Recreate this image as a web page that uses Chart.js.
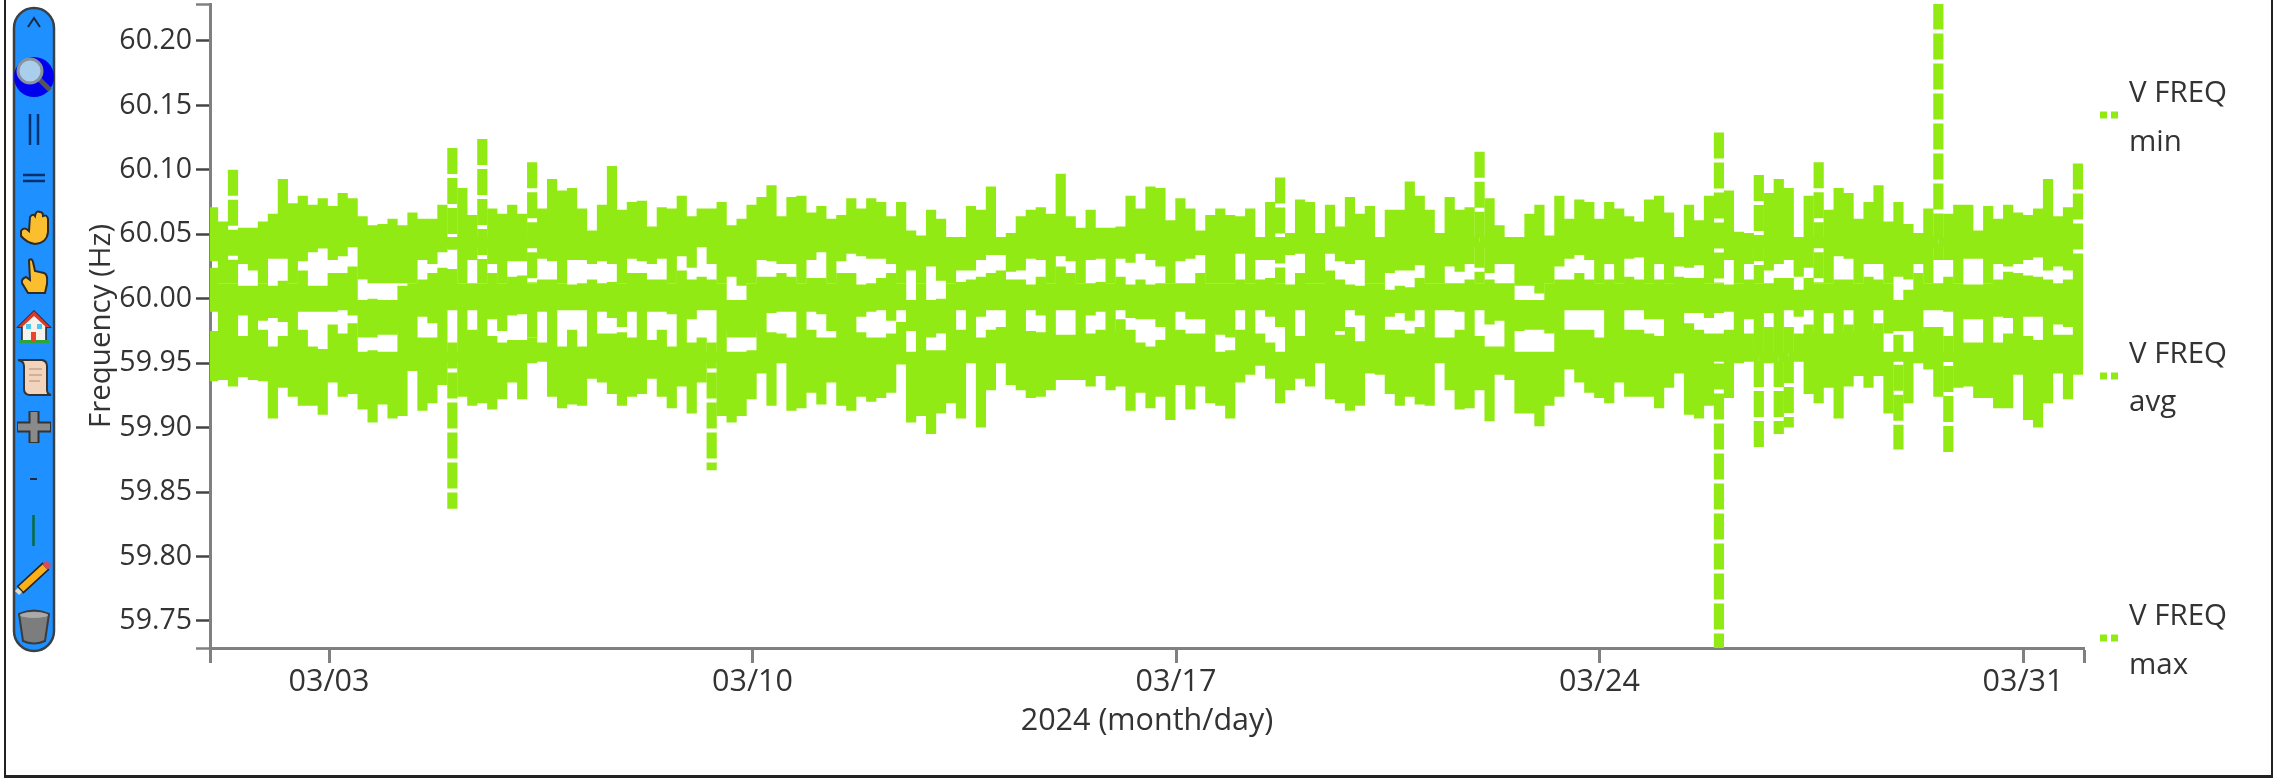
<!DOCTYPE html>
<html><head><meta charset="utf-8">
<script src="https://cdn.jsdelivr.net/npm/chart.js@4/dist/chart.umd.min.js"></script>
<style>
html,body{margin:0;padding:0;background:#fff;overflow:hidden}
#stage{position:relative;width:2279px;height:778px;background:#fff}
#frame{position:absolute;left:4px;top:-4px;width:2265px;height:777px;border:2px solid #222;border-bottom-width:3px;box-sizing:content-box;pointer-events:none}
canvas{position:absolute;left:0;top:0}
#tools{position:absolute;left:0;top:0}
</style></head><body>
<div id="stage">
<canvas id="c" width="2279" height="778"></canvas>
<div id="frame"></div>
<svg id="tools" width="70" height="670" viewBox="0 0 70 670">
 <rect x="14" y="8" width="40" height="643" rx="20" fill="#1e90ff" stroke="#3a4048" stroke-width="2.5"/>
 <path d="M28 27 L34 18 L40 27" fill="none" stroke="#1a2a44" stroke-width="2"/>
 <circle cx="34" cy="77" r="20" fill="#0000ee"/>
 <path d="M38 78 L50 90" stroke="#555" stroke-width="5"/>
 <circle cx="30" cy="71" r="12" fill="#a9cfec" stroke="#8a939b" stroke-width="3"/>
 <path d="M30 114V145M38 114V145" stroke="#06306b" stroke-width="2.5"/>
 <path d="M23 175H45M23 181H45" stroke="#06306b" stroke-width="2.5"/>
 <path d="M21 231 Q24 226 29 231 L30 217 Q33 213 35 216 Q36 210 40 212 Q43 212 43 216 Q47 214 48 219 V232 Q47 243 35 244 Q27 243 21 236 Z" fill="#fbbe2e" stroke="#2b2b2b" stroke-width="2"/>
 <path d="M29 260 Q32 258 33 262 L35 271 L44 273 Q48 274 47 284 L45 293 H28 L22 283 Q21 279 26 277 L30 280 Z" fill="#fbbe2e" stroke="#2b2b2b" stroke-width="2"/>
 <path d="M34 311 L50 327 H46 V341 H22 V327 H18 Z" fill="#f5f2ee" stroke="#222" stroke-width="1.5"/>
 <path d="M34 311 L50 327 H46 L34 316 L22 327 H18 Z" fill="#d8392b"/>
 <rect x="19" y="340" width="30" height="3" fill="#2da53a"/>
 <rect x="31" y="332" width="5" height="9" fill="#e8442c"/>
 <rect x="26" y="324" width="5" height="5" fill="#4cc8ee"/><rect x="37" y="324" width="5" height="5" fill="#4cc8ee"/>
 <path d="M18 360 H42 Q47 361 47 366 V390 Q47 394 51 395 H29 Q24 394 24 389 V366 Q24 361 18 360 Z" fill="#f2d3bb" stroke="#333" stroke-width="2"/>
 <path d="M29 369H42M29 375H42M29 381H40" stroke="#c8a58c" stroke-width="1.5"/>
 <path d="M34 411V443M17 427H51" stroke="#333" stroke-width="11"/>
 <path d="M34 412V442M18 427H50" stroke="#8a8a8a" stroke-width="7"/>
 <path d="M30 479H37" stroke="#1a2a44" stroke-width="2"/>
 <path d="M33.5 515V546" stroke="#0a6a3a" stroke-width="2.5"/>
 <path d="M20 590 L46 566" stroke="#222" stroke-width="10"/>
 <path d="M21 589 L45 567" stroke="#fbb017" stroke-width="7"/>
 <path d="M45 567 L49 563" stroke="#e0475a" stroke-width="7"/>
 <path d="M20 590 L17 593" stroke="#e9d7b5" stroke-width="6"/>
 <path d="M19 614 Q34 607 49 614 L45 641 Q34 646 23 641 Z" fill="#7d7d7d" stroke="#3c3c3c" stroke-width="2"/>
 <ellipse cx="34" cy="615" rx="14" ry="3" fill="#aaa"/>
</svg>
</div>
<script>
const xTickDays = [3, 10, 17, 24, 31];
const xTickLabels = ["03/03", "03/10", "03/17", "03/24", "03/31"];
const yTickValues = [59.75, 59.80, 59.85, 59.90, 59.95, 60.00, 60.05, 60.10, 60.15, 60.20];
const seriesNames = [["V FREQ", "min"], ["V FREQ", "avg"], ["V FREQ", "max"]];
const xAxisRange = [1.033, 32.008];
const yAxisRange = [59.729, 60.2287];
const firstSampleDay = 1.083;
const sampleStepDays = 0.16484;
const bandCentres = [59.955, 59.995, 60.044];

const maxHigh = [
60.071,60.060,60.100,60.055,60.055,60.060,60.066,60.093,60.074,60.080,60.073,60.078,60.072,60.082,60.078,60.064,60.057,60.058,60.062,60.057,60.067,60.062,60.062,60.073,60.117,60.086,60.065,60.124,60.070,
60.066,60.073,60.066,60.106,60.070,60.093,60.084,60.086,60.070,60.053,60.073,60.103,60.069,60.075,60.076,60.056,60.071,60.070,60.080,60.064,60.070,60.070,60.075,60.057,60.062,60.073,
60.079,60.088,60.064,60.079,60.080,60.067,60.072,60.062,60.065,60.078,60.070,60.078,60.075,60.064,60.075,60.053,60.049,60.069,60.062,60.048,60.043,60.072,60.069,60.087,60.048,60.051,
60.064,60.069,60.071,60.066,60.097,60.064,60.055,60.069,60.055,60.055,60.056,60.080,60.070,60.087,60.086,60.061,60.078,60.070,60.053,60.065,60.070,60.065,60.064,60.070,60.048,60.075,60.094,60.051,60.077,60.075,60.051,60.073,60.056,60.079,60.066,60.072,60.043,60.069,60.069,
60.091,60.080,60.069,60.051,60.079,60.069,60.071,60.114,60.078,60.057,60.043,60.043,60.066,60.073,60.049,60.080,60.062,60.077,60.075,60.062,60.075,60.070,60.064,60.060,
60.077,60.080,60.067,60.044,60.073,60.061,60.080,60.129,60.084,60.052,60.051,60.096,60.082,60.093,60.086,60.043,60.080,60.106,60.069,60.086,60.082,60.062,60.075,60.088,
60.060,60.075,60.058,60.051,60.070,60.229,60.066,60.073,60.073,60.053,60.072,60.062,60.073,60.067,60.065,60.070,60.093,60.064,60.071,60.105];
const maxLow = [
60.029,60.012,60.012,60.027,60.022,60.012,60.031,60.031,60.012,60.029,60.036,60.039,60.030,60.033,60.040,60.015,60.012,60.012,60.012,60.012,60.012,60.030,60.027,60.036,60.038,60.012,60.030,60.012,60.027,
60.012,60.029,60.029,60.012,60.031,60.029,60.012,60.030,60.030,60.027,60.029,60.027,60.012,60.031,60.029,60.027,60.031,60.012,60.033,60.024,60.043,60.027,60.012,60.017,60.010,60.012,
60.030,60.029,60.027,60.027,60.012,60.030,60.036,60.012,60.029,60.035,60.033,60.031,60.031,60.027,60.012,60.022,60.012,60.025,60.014,60.012,60.022,60.022,60.030,60.034,60.034,60.021,
60.022,60.031,60.030,60.012,60.033,60.029,60.012,60.030,60.031,60.012,60.031,60.028,60.035,60.030,60.025,60.012,60.029,60.031,60.034,60.012,60.012,60.012,60.035,60.012,60.030,60.030,60.012,60.034,60.035,60.012,60.012,60.035,60.029,60.027,60.030,60.012,60.012,60.020,60.022,
60.022,60.026,60.012,60.012,60.025,60.021,60.027,60.012,60.020,60.027,60.027,60.010,60.010,60.004,60.012,60.025,60.031,60.034,60.030,60.012,60.027,60.012,60.031,60.032,
60.012,60.027,60.012,60.025,60.024,60.026,60.012,60.012,60.030,60.012,60.027,60.012,60.022,60.027,60.030,60.017,60.024,60.012,60.012,60.033,60.031,60.012,60.027,60.027,
60.012,60.017,60.015,60.027,60.012,60.030,60.030,60.012,60.031,60.031,60.012,60.027,60.025,60.027,60.030,60.032,60.022,60.025,60.022,60.020];
const avgHigh = [
60.024,60.012,60.012,60.010,60.010,60.012,60.010,60.014,60.012,60.022,60.010,60.010,60.020,60.020,60.025,59.997,60.000,59.990,59.990,60.010,60.012,60.015,60.020,60.024,60.023,60.012,60.012,60.012,60.020,
60.012,60.017,60.018,60.012,60.015,60.015,60.012,60.011,60.012,60.015,60.012,60.013,60.012,60.020,60.020,60.015,60.015,60.012,60.022,60.015,60.017,60.015,60.012,59.990,59.995,60.012,
60.017,60.017,60.020,60.017,60.012,60.016,60.016,60.012,60.020,60.020,60.011,60.012,60.016,60.020,60.012,59.991,60.012,59.994,60.000,60.012,60.013,60.015,60.017,60.020,60.022,60.015,
60.015,60.011,60.017,60.012,60.025,60.020,60.012,60.012,60.013,60.012,60.017,60.011,60.015,60.011,60.012,60.012,60.012,60.012,60.020,60.012,60.012,60.012,60.015,60.012,60.015,60.016,60.012,60.011,60.020,60.012,60.012,60.022,60.015,60.011,60.010,60.012,60.012,60.007,60.010,
60.009,60.016,60.012,60.012,60.012,60.012,60.015,60.012,60.015,60.012,60.012,59.994,59.995,59.992,60.012,60.015,60.015,60.020,60.015,60.012,60.015,60.012,60.017,60.015,
60.012,60.015,60.012,60.017,60.016,60.016,60.012,60.012,60.011,60.012,60.015,60.012,60.012,60.016,60.016,60.007,60.016,60.012,60.012,60.015,60.015,60.012,60.017,60.015,
60.012,59.998,60.007,60.020,60.012,60.012,60.017,60.012,60.011,60.011,60.012,60.015,60.021,60.020,60.018,60.017,60.015,60.012,60.015,60.020];
const avgLow = [
59.990,59.975,59.975,59.987,59.975,59.983,59.985,59.982,59.975,59.990,59.990,59.990,59.990,59.992,59.987,59.970,59.970,59.972,59.972,59.975,59.975,59.986,59.981,59.975,59.992,59.975,59.992,59.975,59.984,
59.975,59.987,59.988,59.970,59.990,59.975,59.991,59.991,59.991,59.975,59.990,59.985,59.978,59.990,59.975,59.990,59.990,59.988,59.975,59.984,59.994,59.994,59.975,59.970,59.970,59.970,
59.975,59.989,59.990,59.990,59.975,59.990,59.988,59.975,59.975,59.975,59.986,59.990,59.991,59.983,59.993,59.975,59.975,59.970,59.973,59.975,59.994,59.975,59.986,59.999,59.997,59.975,
59.975,59.993,59.987,59.975,60.000,59.994,59.975,59.987,59.990,59.975,59.994,59.985,59.984,59.984,59.978,59.975,59.990,59.984,59.984,59.975,59.972,59.970,59.997,59.975,59.991,59.986,59.978,59.975,59.991,59.975,59.975,59.975,59.975,59.991,59.987,59.975,59.975,59.986,59.989,
59.983,59.994,59.975,59.991,59.991,59.990,59.975,59.996,59.980,59.983,59.975,59.975,59.976,59.976,59.973,59.975,59.995,59.994,59.993,59.991,59.975,59.975,59.991,59.993,
59.984,59.984,59.975,59.975,59.989,59.989,59.985,59.989,59.990,59.975,59.984,59.975,59.989,59.975,59.991,59.986,59.991,59.975,59.989,59.975,59.993,59.975,59.975,59.994,
59.973,59.975,59.975,59.975,59.996,59.996,59.990,59.975,59.984,59.984,59.975,59.986,59.985,59.975,59.986,59.986,59.975,59.980,59.978,59.975];
const minHigh = [
59.975,59.975,59.975,59.971,59.975,59.976,59.963,59.971,59.975,59.976,59.963,59.961,59.980,59.973,59.981,59.955,59.960,59.952,59.950,59.975,59.975,59.970,59.970,59.975,59.966,59.975,59.976,59.975,59.971,
59.966,59.968,59.968,59.970,59.966,59.975,59.963,59.976,59.963,59.975,59.973,59.973,59.974,59.970,59.975,59.968,59.976,59.963,59.975,59.966,59.970,59.966,59.975,59.955,59.955,59.960,
59.975,59.974,59.973,59.970,59.975,59.976,59.970,59.970,59.975,59.975,59.974,59.970,59.970,59.973,59.982,59.955,59.975,59.960,59.960,59.975,59.976,59.975,59.970,59.976,59.978,59.975,
59.975,59.975,59.974,59.975,59.972,59.972,59.975,59.973,59.976,59.975,59.984,59.976,59.966,59.963,59.968,59.975,59.976,59.973,59.973,59.975,59.953,59.960,59.976,59.975,59.973,59.966,59.958,59.975,59.971,59.975,59.975,59.975,59.972,59.978,59.967,59.975,59.975,59.976,59.976,
59.973,59.978,59.975,59.970,59.970,59.976,59.975,59.971,59.963,59.963,59.975,59.955,59.955,59.958,59.955,59.975,59.976,59.976,59.976,59.970,59.975,59.975,59.976,59.976,
59.973,59.971,59.975,59.975,59.981,59.976,59.973,59.973,59.976,59.975,59.973,59.975,59.978,59.975,59.978,59.973,59.980,59.975,59.973,59.975,59.980,59.975,59.975,59.981,
59.955,59.972,59.958,59.975,59.978,59.978,59.971,59.975,59.966,59.966,59.975,59.966,59.973,59.975,59.971,59.968,59.975,59.972,59.972,59.975];
const minLow = [
59.936,59.937,59.932,59.939,59.937,59.936,59.907,59.931,59.924,59.917,59.917,59.910,59.935,59.924,59.926,59.914,59.904,59.918,59.907,59.909,59.944,59.913,59.919,59.933,59.837,59.924,59.917,59.919,59.914,
59.922,59.935,59.922,59.950,59.955,59.924,59.915,59.918,59.917,59.938,59.935,59.926,59.917,59.924,59.926,59.938,59.924,59.915,59.932,59.911,59.935,59.867,59.909,59.904,59.909,59.922,
59.942,59.917,59.950,59.913,59.915,59.927,59.918,59.935,59.917,59.913,59.924,59.920,59.923,59.927,59.949,59.904,59.909,59.895,59.911,59.919,59.907,59.950,59.900,59.929,59.950,59.933,
59.929,59.923,59.924,59.929,59.937,59.937,59.937,59.932,59.940,59.929,59.932,59.913,59.927,59.915,59.924,59.906,59.933,59.914,59.932,59.919,59.917,59.907,59.935,59.941,59.948,59.938,59.919,59.929,59.938,59.932,59.950,59.922,59.919,59.913,59.917,59.942,59.941,59.926,59.917,
59.924,59.918,59.917,59.950,59.929,59.914,59.915,59.929,59.905,59.941,59.937,59.911,59.911,59.901,59.917,59.924,59.945,59.935,59.927,59.923,59.919,59.935,59.924,59.924,
59.924,59.915,59.931,59.942,59.910,59.907,59.917,59.729,59.923,59.950,59.953,59.884,59.950,59.895,59.900,59.953,59.926,59.919,59.931,59.907,59.932,59.940,59.931,59.940,
59.911,59.883,59.919,59.950,59.945,59.924,59.880,59.931,59.932,59.923,59.923,59.915,59.915,59.941,59.906,59.900,59.919,59.942,59.922,59.941];

const lineColor = "#92ea14";
const spineColor = "#808080";
const textColor = "#333333";
const fontName = "'Open Sans', sans-serif";
const dashedSpan = 0.078;

function sweep(highs, lows, centre) {
  const pts = [];
  highs.forEach((h, i) => {
    const day = firstSampleDay + i * sampleStepDays;
    pts.push({x: day, y: centre}, {x: day, y: h}, {x: day, y: lows[i]}, {x: day, y: centre});
  });
  return pts;
}
function lineSet(name, highs, lows, centre) {
  const tall = idx => {
    const i = Math.floor(idx / 4);
    return highs[i] - lows[i] > dashedSpan;
  };
  return {
    label: name.join(" "), data: sweep(highs, lows, centre), parsing: false,
    borderColor: lineColor, backgroundColor: lineColor, borderWidth: 10.2,
    borderDash: [26, 4], borderJoinStyle: "bevel", borderCapStyle: "butt",
    pointRadius: 0, tension: 0, fill: false,
    segment: {
      borderColor: ctx => {
        const part = ctx.p0DataIndex % 4;
        return (part === 0 || part === 2) && tall(ctx.p0DataIndex) ? "rgba(0,0,0,0)" : lineColor;
      },
      borderDash: ctx => (ctx.p0DataIndex % 4 === 1 && tall(ctx.p0DataIndex) ? [26, 4] : [])
    }
  };
}
const sideLegend = {
  id: "sideLegend",
  afterDraw(chart) {
    const c = chart.ctx;
    const rows = [
      {mark: 115, a: 94, b: 143},
      {mark: 376, a: 355, b: 403},
      {mark: 638, a: 617, b: 666}
    ];
    c.save();
    chart.data.datasets.forEach((ds, i) => {
      const r = rows[i];
      c.strokeStyle = ds.borderColor; c.lineWidth = 7; c.setLineDash([7, 4]);
      c.beginPath(); c.moveTo(2100, r.mark); c.lineTo(2119, r.mark); c.stroke();
      c.setLineDash([]);
      c.fillStyle = textColor; c.font = "29.5px " + fontName;
      c.textAlign = "left"; c.textBaseline = "middle";
      c.fillText(seriesNames[i][0], 2129, r.a);
      c.fillText(seriesNames[i][1], 2129, r.b);
    });
    c.restore();
  }
};
new Chart(document.getElementById("c"), {
  type: "line",
  data: { datasets: [
    lineSet(seriesNames[0], minHigh, minLow, bandCentres[0]),
    lineSet(seriesNames[1], avgHigh, avgLow, bandCentres[1]),
    lineSet(seriesNames[2], maxHigh, maxLow, bandCentres[2])
  ]},
  plugins: [sideLegend],
  options: {
    responsive: false, maintainAspectRatio: false, animation: false,
    layout: { padding: { top: 4, right: 195, left: 0, bottom: 0 } },
    plugins: { legend: { display: false }, tooltip: { enabled: false } },
    scales: {
      x: {
        type: "linear", min: xAxisRange[0], max: xAxisRange[1],
        afterBuildTicks(s) { s.ticks = [xAxisRange[0], ...xTickDays, xAxisRange[1]].map(v => ({value: v})); },
        afterFit(s) { s.height = 130; s.paddingLeft = 0; s.paddingRight = 0; },
        border: { display: true, color: spineColor, width: 3 },
        grid: { display: true, drawOnChartArea: false, drawTicks: true, tickLength: 15, tickColor: spineColor, tickWidth: 3 },
        ticks: {
          autoSkip: false, maxRotation: 0, minRotation: 0, padding: 1,
          color: textColor, font: { family: fontName, size: 30.5 },
          callback(v) { const i = xTickDays.indexOf(v); return i < 0 ? "" : xTickLabels[i]; }
        },
        title: { display: true, text: "2024 (month/day)", color: textColor, font: { family: fontName, size: 30.5 }, padding: { top: 0, bottom: 38 } }
      },
      y: {
        type: "linear", min: yAxisRange[0], max: yAxisRange[1],
        afterBuildTicks(s) { s.ticks = [yAxisRange[0], ...yTickValues, yAxisRange[1]].map(v => ({value: v})); },
        afterFit(s) { s.width = 210; s.paddingTop = 0; s.paddingBottom = 0; },
        border: { display: true, color: spineColor, width: 3 },
        grid: {
          display: true, drawOnChartArea: false, drawTicks: true, tickLength: 14, tickWidth: 2.5,
          tickColor: ctx => (yTickValues.includes(ctx.tick.value) ? "#444444" : spineColor)
        },
        ticks: {
          autoSkip: false, padding: 4, color: textColor, font: { family: fontName, size: 28.5 },
          callback(v) { return yTickValues.includes(v) ? v.toFixed(2) : ""; }
        },
        title: { display: true, text: "Frequency (Hz)", color: textColor, font: { family: fontName, size: 29.5 }, padding: { top: 84, bottom: 0 } }
      }
    }
  }
});
</script>
</body></html>
